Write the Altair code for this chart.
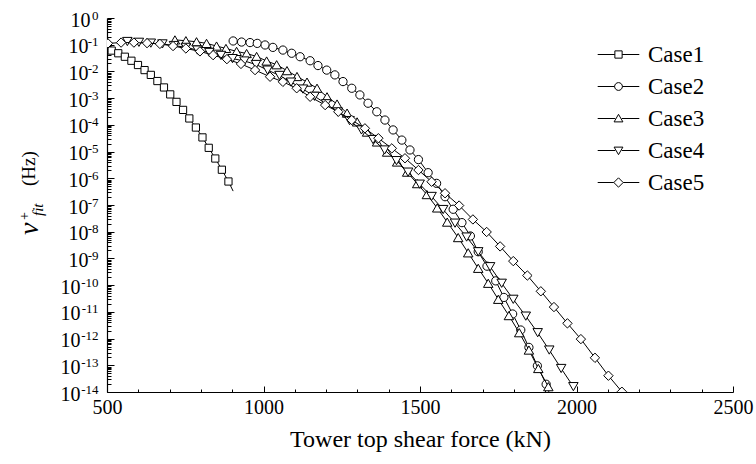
import json
import altair as alt
import pandas as pd

# ---------------- data ----------------
cases = ["Case1", "Case2", "Case3", "Case4", "Case5"]

case1_kn = [500, 515, 536, 557, 578, 599, 620, 640, 661, 682, 702, 722, 743, 763, 784, 805, 825, 846, 867, 888, 903]
case1_log10 = [-1.16, -1.22, -1.32, -1.45, -1.60, -1.76, -1.95, -2.13, -2.36, -2.60, -2.86, -3.14, -3.44, -3.76,
               -4.10, -4.47, -4.86, -5.26, -5.68, -6.12, -6.48]
case1_no_marker = [500, 903]

case2_kn = [903, 930, 957, 980, 1005, 1030, 1062, 1090, 1117, 1149, 1174, 1202, 1228, 1254, 1282, 1308, 1334,
            1362, 1388, 1414, 1442, 1468, 1495, 1526, 1553, 1580, 1606, 1634, 1661, 1686, 1714, 1742, 1768,
            1796, 1822, 1848, 1875, 1903, 1912]
case2_log10 = [-0.86, -0.90, -0.92, -0.95, -1.01, -1.10, -1.20, -1.32, -1.45, -1.60, -1.78, -1.95, -2.13, -2.38,
               -2.63, -2.88, -3.19, -3.51, -3.82, -4.19, -4.57, -4.94, -5.30, -5.79, -6.19, -6.69, -7.16, -7.66,
               -8.16, -8.75, -9.29, -9.84, -10.46, -11.08, -11.68, -12.33, -13.02, -13.71, -14.0]
case2_no_marker = [1912]

case3_kn = [717, 752, 786, 818, 850, 880, 914, 946, 978, 1010, 1042, 1075, 1107, 1139, 1171, 1203, 1235, 1267,
            1299, 1331, 1363, 1395, 1427, 1459, 1491, 1522, 1555, 1587, 1622, 1654, 1686, 1718, 1750, 1784,
            1817, 1848, 1878, 1910]
case3_log10 = [-0.82, -0.85, -0.89, -0.95, -1.05, -1.14, -1.25, -1.33, -1.44, -1.61, -1.75, -1.97, -2.19, -2.40,
               -2.63, -2.95, -3.22, -3.56, -3.89, -4.27, -4.64, -5.02, -5.39, -5.77, -6.20, -6.61, -7.11, -7.64,
               -8.22, -8.79, -9.37, -9.93, -10.53, -11.14, -11.78, -12.43, -13.12, -13.80]
case3_no_marker = []

case4_kn = [565, 602, 640, 677, 714, 752, 789, 827, 864, 901, 939, 976, 1013, 1051, 1088, 1126, 1163, 1200,
            1238, 1275, 1313, 1350, 1387, 1425, 1462, 1499, 1537, 1574, 1612, 1649, 1686, 1724, 1761, 1798,
            1838, 1876, 1913, 1951, 1990]
case4_log10 = [-0.88, -0.91, -0.94, -0.97, -1.03, -1.10, -1.20, -1.29, -1.40, -1.52, -1.61, -1.74, -1.95, -2.15,
               -2.40, -2.66, -2.93, -3.21, -3.52, -3.84, -4.19, -4.55, -4.94, -5.34, -5.77, -6.22, -6.68, -7.17,
               -7.68, -8.20, -8.75, -9.31, -9.93, -10.53, -11.16, -11.78, -12.43, -13.12, -13.80]
case4_no_marker = []

case5_kn = [503, 545, 586, 628, 669, 711, 752, 797, 839, 883, 928, 973, 1021, 1062, 1106, 1149, 1197, 1239,
            1282, 1324, 1367, 1410, 1452, 1495, 1537, 1580, 1625, 1669, 1713, 1756, 1798, 1843, 1886, 1928,
            1971, 2014, 2059, 2102, 2145]
case5_log10 = [-0.95, -0.92, -0.92, -0.94, -0.97, -1.05, -1.14, -1.25, -1.39, -1.54, -1.72, -1.95, -2.20, -2.39,
               -2.63, -2.95, -3.26, -3.51, -3.82, -4.13, -4.50, -4.88, -5.25, -5.69, -6.13, -6.56, -7.02, -7.54,
               -8.01, -8.55, -9.10, -9.64, -10.23, -10.82, -11.43, -12.02, -12.72, -13.39, -13.99]
case5_no_marker = []

x_major = [500, 1000, 1500, 2000, 2500]
x_minor = [600, 700, 800, 900, 1100, 1200, 1300, 1400, 1600, 1700, 1800, 1900, 2100, 2200, 2300, 2400]
y_exponents = [0, -1, -2, -3, -4, -5, -6, -7, -8, -9, -10, -11, -12, -13, -14]
minor_mult = [2, 3, 4, 5, 6, 7, 8, 9]

# ---------------- table ----------------
series = [
    ("Case1", case1_kn, case1_log10, case1_no_marker),
    ("Case2", case2_kn, case2_log10, case2_no_marker),
    ("Case3", case3_kn, case3_log10, case3_no_marker),
    ("Case4", case4_kn, case4_log10, case4_no_marker),
    ("Case5", case5_kn, case5_log10, case5_no_marker),
]
rows = []
for name, kn, lg, nm in series:
    for k, e in zip(kn, lg):
        rows.append({"case": name, "kN": k, "v": 10.0 ** e, "marker": k not in nm})
df = pd.DataFrame(rows)

FONT = "Liberation Serif"
OX, OY = 107, 18  # plot-area origin in the page

xs = alt.Scale(domain=[500, 2500], nice=False, zero=False)
ys = alt.Scale(type="log", domain=[1e-14, 1], nice=False)

shapes = ["square", "circle", "triangle-up", "triangle-down", "diamond"]
sizes = [52, 68, 90, 90, 88]

legend_paths = [
    "M-1.6,0H-0.28M0.28,0H1.6M-0.28,-0.28H0.28V0.28H-0.28Z",
    "M-1.6,0H-0.3M0.3,0H1.6M-0.3,0A0.3,0.3 0 1,0 0.3,0A0.3,0.3 0 1,0 -0.3,0Z",
    "M-1.6,0H-0.25M0.25,0H1.6M0,-0.32L0.34,0.26H-0.34Z",
    "M-1.6,0H-0.25M0.25,0H1.6M0,0.32L0.34,-0.26H-0.34Z",
    "M-1.6,0H-0.36M0.36,0H1.6M0,-0.36L0.36,0L0,0.36L-0.36,0Z",
]

layers = []
for i, c in enumerate(cases):
    sub = df[df["case"] == c]
    layers.append(
        alt.Chart(sub).mark_line(color="black", strokeWidth=1, clip=True).encode(
            x=alt.X("kN:Q", scale=xs, axis=None),
            y=alt.Y("v:Q", scale=ys, axis=None),
            order="kN:Q",
        )
    )
    layers.append(
        alt.Chart(sub[sub["marker"]]).mark_point(
            shape=shapes[i], size=sizes[i], filled=True, fill="white", stroke="black",
            strokeWidth=1, opacity=1, clip=True
        ).encode(
            x=alt.X("kN:Q", scale=xs, axis=None),
            y=alt.Y("v:Q", scale=ys, axis=None),
        )
    )


def ghost(x_axis, y_axis, **extra):
    """Invisible point layer that only carries an axis (and optionally the legend)."""
    return alt.Chart(df).mark_point(opacity=0).encode(
        x=alt.X("kN:Q", scale=xs, title=None, axis=x_axis) if x_axis is not None
        else alt.X("kN:Q", scale=xs, axis=None),
        y=alt.Y("v:Q", scale=ys, title=None, axis=y_axis) if y_axis is not None
        else alt.Y("v:Q", scale=ys, axis=None),
        **extra,
    )


# main axes (domain lines, x labels, x title) + legend
main_axes = alt.Chart(df).mark_point(opacity=0).encode(
    x=alt.X("kN:Q", scale=xs, title="Tower top shear force (kN)",
            axis=alt.Axis(orient="bottom", values=x_major, format="d", ticks=False, grid=False,
                          domainColor="black", domainWidth=1.2, labelFont=FONT, labelFontSize=20,
                          labelColor="black", labelPadding=5, titleFont=FONT, titleFontSize=24,
                          titleFontWeight="normal", titleColor="black", titlePadding=10,
                          labelFlush=False)),
    y=alt.Y("v:Q", scale=ys, title=None,
            axis=alt.Axis(orient="left", values=[1.0], labels=False, ticks=False, grid=False,
                          domainColor="black", domainWidth=1.2)),
    shape=alt.Shape("case:N", scale=alt.Scale(domain=cases, range=legend_paths),
                    legend=alt.Legend(title=None, orient="none", legendX=498, legendY=23,
                                      symbolSize=676, symbolStrokeWidth=1, symbolStrokeColor="black",
                                      symbolFillColor="white", symbolOpacity=1, labelFont=FONT,
                                      labelFontSize=23, labelColor="black", labelOffset=16,
                                      rowPadding=6, padding=0, direction="vertical")),
)

# y labels: mantissa "10" and the exponent as a smaller raised label
exp_strings = [str(e) for e in y_exponents]
exp_expr = json.dumps(exp_strings) + "[round(-log(datum.value)/LN10)]"


def base_axis(vals, pad):
    return alt.Axis(orient="left", values=vals, labelExpr="'10'", ticks=False, domain=False, grid=False,
                    labelFont=FONT, labelFontSize=20, labelColor="black", labelPadding=pad,
                    labelOffset=2, labelFlush=False, labelOverlap=False)


base_0 = ghost(None, base_axis([10.0 ** e for e in y_exponents if e == 0], 17))
base_1 = ghost(None, base_axis([10.0 ** e for e in y_exponents if -10 < e < 0], 19))
base_2 = ghost(None, base_axis([10.0 ** e for e in y_exponents if e <= -10], 27))
expo = ghost(None, alt.Axis(orient="left", values=[10.0 ** e for e in y_exponents], labelExpr=exp_expr,
                            ticks=False, domain=False, grid=False, labelFont=FONT, labelFontSize=13,
                            labelColor="black", labelPadding=9, labelOffset=-3, labelFlush=False,
                            labelOverlap=False))

y_minor_vals = [m * 10.0 ** e for e in range(-14, 0) for m in minor_mult]

major_ticks = ghost(
    alt.Axis(orient="bottom", values=x_major, offset=-6, tickSize=6, domain=False,
             labels=False, grid=False, tickColor="black", tickWidth=1),
    alt.Axis(orient="left", values=[10.0 ** e for e in y_exponents], offset=-7, tickSize=7,
             domain=False, labels=False, grid=False, tickColor="black", tickWidth=1),
)
minor_ticks = ghost(
    alt.Axis(orient="bottom", values=x_minor, offset=-3, tickSize=3, domain=False,
             labels=False, grid=False, tickColor="black", tickWidth=1),
    alt.Axis(orient="left", values=y_minor_vals, offset=-4, tickSize=4,
             domain=False, labels=False, grid=False, tickColor="black", tickWidth=1),
)

# y-axis title built from pieces (italic v with super/subscripts)
title_pieces = [
    ("v", 28, "italic", 38, 235),
    ("+", 14, "normal", 29, 220),
    ("fit", 15, "italic", 43, 216),
    ("(Hz)", 19, "normal", 35, 186),
]
title_layers = []
for txt, fs, style, xa, ya in title_pieces:
    title_layers.append(
        alt.Chart(pd.DataFrame({"t": [txt]})).mark_text(
            angle=270, align="left", baseline="alphabetic", font=FONT, fontSize=fs,
            fontStyle=style, color="black"
        ).encode(text="t:N", x=alt.value(xa - OX), y=alt.value(ya - OY))
    )

chart = alt.layer(main_axes, base_0, base_1, base_2, expo, major_ticks, minor_ticks,
                  *layers, *title_layers).resolve_axis(
    x="independent", y="independent"
).properties(
    width=626, height=374,
    autosize=alt.AutoSizeParams(type="none"),
    padding={"left": OX, "top": OY, "right": 23, "bottom": 72},
    background="white",
).configure_view(stroke=None)

chart.save("out.html", embed_options={"renderer": "svg", "actions": False})
